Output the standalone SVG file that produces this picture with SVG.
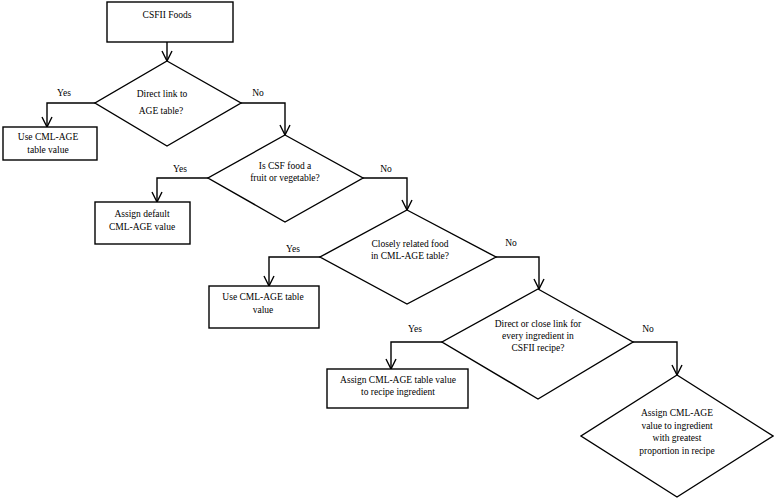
<svg xmlns="http://www.w3.org/2000/svg" width="774" height="499" viewBox="0 0 774 499">
<defs>
<marker id="arr" markerUnits="userSpaceOnUse" viewBox="0 0 12 12" refX="11" refY="6" markerWidth="12" markerHeight="12" orient="auto">
<path d="M1,1 L11,6 L1,11" fill="none" stroke="#000" stroke-width="1.4"/>
</marker>
</defs>
<style>
.s{fill:#fff;stroke:#000;stroke-width:1.4}
.c{fill:none;stroke:#000;stroke-width:1.4;marker-end:url(#arr)}
.t{font-size:9.5px;fill:#000;text-anchor:middle}
</style>
<rect width="774" height="499" fill="#fff"/>
<g id="connectors">
<path class="c" d="M167,42 V61"/>
<path class="c" d="M95,103 H47 V127"/>
<path class="c" d="M241,103 H285 V135"/>
<path class="c" d="M208,178 H157 V202"/>
<path class="c" d="M363,178 H407 V210"/>
<path class="c" d="M320,257 H269 V286"/>
<path class="c" d="M496,257 H539 V289"/>
<path class="c" d="M442,342 H391 V369"/>
<path class="c" d="M633,342 H677 V375"/>
</g>
<g font-family="'Liberation Serif', 'Times New Roman', serif">
<g id="labels" class="t">
<text x="64" y="96">Yes</text>
<text x="258" y="96">No</text>
<text x="180" y="172">Yes</text>
<text x="386" y="172">No</text>
<text x="293" y="252">Yes</text>
<text x="511" y="246">No</text>
<text x="415" y="332">Yes</text>
<text x="648" y="332">No</text>
</g>
<g id="start">
<rect class="s" x="107" y="2" width="126" height="40"/>
<text class="t" x="167" y="18">CSFII Foods</text>
</g>
<g id="d1">
<polygon class="s" points="167,61 241,103 167,146 95,103"/>
<text class="t" x="162" y="97">Direct link to</text>
<text class="t" x="161" y="114">AGE table?</text>
</g>
<g id="b1">
<rect class="s" x="3" y="127" width="94" height="33"/>
<text class="t" x="48" y="140">Use CML-AGE</text>
<text class="t" x="48" y="153">table value</text>
</g>
<g id="d2">
<polygon class="s" points="285,135 363,178 285,222 208,178"/>
<text class="t" x="285" y="169">Is CSF food a</text>
<text class="t" x="285" y="181">fruit or vegetable?</text>
</g>
<g id="b2">
<rect class="s" x="95" y="202" width="95" height="42"/>
<text class="t" x="142" y="217">Assign default</text>
<text class="t" x="142" y="230">CML-AGE value</text>
</g>
<g id="d3">
<polygon class="s" points="407,210 496,257 407,304 320,257"/>
<text class="t" x="410" y="247">Closely related food</text>
<text class="t" x="410" y="259">in CML-AGE table?</text>
</g>
<g id="b3">
<rect class="s" x="209" y="286" width="110" height="42"/>
<text class="t" x="263" y="300">Use CML-AGE table</text>
<text class="t" x="263" y="313">value</text>
</g>
<g id="d4">
<polygon class="s" points="538,289 633,342 538,399 442,342"/>
<text class="t" x="538" y="327">Direct or close link for</text>
<text class="t" x="538" y="339">every ingredient in</text>
<text class="t" x="538" y="351">CSFII recipe?</text>
</g>
<g id="b4">
<rect class="s" x="327" y="369" width="141" height="39"/>
<text class="t" x="398" y="383">Assign CML-AGE table value</text>
<text class="t" x="398" y="395">to recipe ingredient</text>
</g>
<g id="d5">
<polygon class="s" points="677,375 773,436 677,497 581,436"/>
<text class="t" x="677" y="416">Assign CML-AGE</text>
<text class="t" x="677" y="429">value to ingredient</text>
<text class="t" x="677" y="441">with greatest</text>
<text class="t" x="677" y="454">proportion in recipe</text>
</g>
</g>
</svg>
